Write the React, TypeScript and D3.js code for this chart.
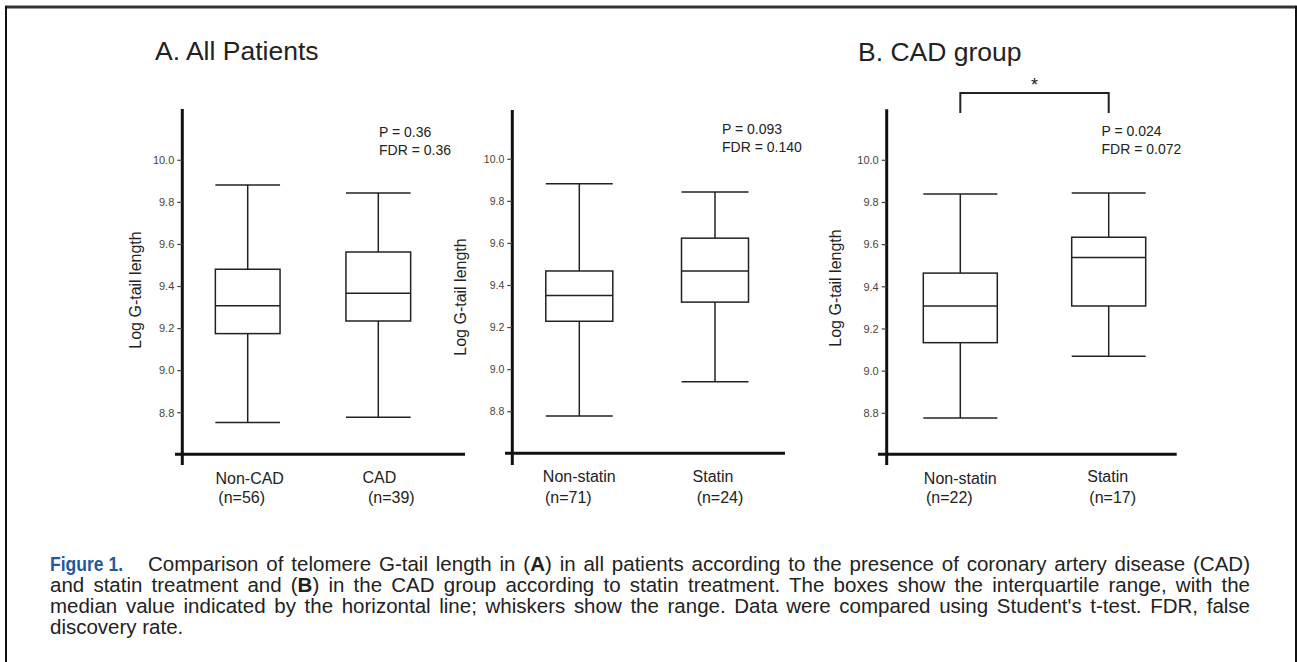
import React, { useLayoutEffect, useRef, useState } from "react";
import * as d3 from "d3";

// ---------- DATA ----------
const panelTitles = ["A. All Patients", "", "B. CAD group"];
const panelCategories = [
  ["Non-CAD", "CAD"],
  ["Non-statin", "Statin"],
  ["Non-statin", "Statin"],
];
const panelCounts = [
  ["(n=56)", "(n=39)"],
  ["(n=71)", "(n=24)"],
  ["(n=22)", "(n=17)"],
];
const whiskerMin = [
  [8.754, 8.778],
  [8.78, 8.942],
  [8.778, 9.071],
];
const quartile1 = [
  [9.176, 9.236],
  [9.23, 9.321],
  [9.135, 9.309],
];
const medianVals = [
  [9.309, 9.368],
  [9.352, 9.469],
  [9.309, 9.539],
];
const quartile3 = [
  [9.482, 9.564],
  [9.469, 9.625],
  [9.465, 9.635],
];
const whiskerMax = [
  [9.883, 9.845],
  [9.884, 9.844],
  [9.84, 9.845],
];
const pLabels = ["P = 0.36", "P = 0.093", "P = 0.024"];
const fdrLabels = ["FDR = 0.36", "FDR = 0.140", "FDR = 0.072"];
const yTicks = [8.8, 9.0, 9.2, 9.4, 9.6, 9.8, 10.0];
const yAxisTitle = "Log G-tail length";

const captionLead = "Figure 1.";
const captionLines = [
  ["Comparison of telomere G-tail length in (", "A", ") in all patients according to the presence of coronary artery disease (CAD)"],
  ["and statin treatment and (", "B", ") in the CAD group according to statin treatment. The boxes show the interquartile range, with the"],
  ["median value indicated by the horizontal line; whiskers show the range. Data were compared using Student's t-test. FDR, false", "", ""],
  ["discovery rate.", "", ""],
];

// ---------- LAYOUT ----------
const W = 1297;
const H = 662;
const layouts = [
  { axisX: 182.3, axisTop: 109, axisBottom: 465, baseY: 454.3, xStart: 175, xEnd: 465, y10: 160.3, y88: 412.7, c: [247.7, 378.3], bw: 64.7, ylabX: 135, ylabY: 290, tickFs: 11, pX: 379, pY: 137, lblDx: [2, 1], nDx: [-6, 13], lblY: [484, 482.5] },
  { axisX: 512.3, axisTop: 110, axisBottom: 465, baseY: 453.3, xStart: 505, xEnd: 785, y10: 159.3, y88: 411.7, c: [579.3, 715], bw: 67, ylabX: 460.5, ylabY: 297, tickFs: 10.5, pX: 722, pY: 134, lblDx: [0, -2], nDx: [-11, 5], lblY: [482, 482] },
  { axisX: 886.7, axisTop: 109.3, axisBottom: 465, baseY: 454.3, xStart: 878, xEnd: 1176.7, y10: 160.3, y88: 413.3, c: [960.3, 1108.7], bw: 74, ylabX: 835, ylabY: 288, tickFs: 11, pX: 1101.5, pY: 136, lblDx: [0, -1], nDx: [-11, 4], lblY: [484, 482] },
];
// caption line layout: [x, baseline, target width or 0 for natural]
const captionLayout = [
  [148, 571, 1102],
  [50, 592, 1200],
  [50, 613, 1200],
  [50, 634, 0],
];
const CAPTION_FS = 20.5;

const FONT = "'Liberation Sans', Arial, Helvetica, sans-serif";

function Panel({ i }: { i: number }) {
  const L = layouts[i];
  const y = d3.scaleLinear().domain([8.8, 10.0]).range([L.y88, L.y10]);
  const x = d3.scalePoint<string>().domain(panelCategories[i]).range([L.c[0], L.c[1]]);
  const half = L.bw / 2;
  return (
    <g>
      <line x1={L.axisX} x2={L.axisX} y1={L.axisTop} y2={L.axisBottom} stroke="#111" strokeWidth={3} />
      <line x1={L.xStart} x2={L.xEnd} y1={L.baseY} y2={L.baseY} stroke="#111" strokeWidth={3} />
      {yTicks.map((t) => (
        <g key={t}>
          <line x1={L.axisX - 5} x2={L.axisX} y1={y(t)} y2={y(t)} stroke="#444" strokeWidth={1.2} />
          <text x={L.axisX - 8} y={y(t)} dy="0.35em" textAnchor="end" fontSize={L.tickFs} fill="#444" fontFamily={FONT}>
            {t.toFixed(1)}
          </text>
        </g>
      ))}
      <text
        transform={`translate(${L.ylabX},${L.ylabY}) rotate(-90)`}
        textAnchor="middle"
        dy="0.35em"
        fontSize={16}
        fill="#222"
        fontFamily={FONT}
      >
        {yAxisTitle}
      </text>
      {panelCategories[i].map((cat, j) => {
        const cx = x(cat)!;
        return (
          <g key={cat} stroke="#222" strokeWidth={1.5} fill="none">
            <line x1={cx} x2={cx} y1={y(whiskerMax[i][j])} y2={y(quartile3[i][j])} />
            <line x1={cx} x2={cx} y1={y(quartile1[i][j])} y2={y(whiskerMin[i][j])} />
            <line x1={cx - half} x2={cx + half} y1={y(whiskerMax[i][j])} y2={y(whiskerMax[i][j])} />
            <line x1={cx - half} x2={cx + half} y1={y(whiskerMin[i][j])} y2={y(whiskerMin[i][j])} />
            <rect x={cx - half} width={L.bw} y={y(quartile3[i][j])} height={y(quartile1[i][j]) - y(quartile3[i][j])} fill="#fff" />
            <line x1={cx - half} x2={cx + half} y1={y(medianVals[i][j])} y2={y(medianVals[i][j])} />
            <text x={cx + L.lblDx[j]} y={L.lblY[j]} textAnchor="middle" fontSize={16} fill="#222" stroke="none" fontFamily={FONT}>
              {cat}
            </text>
            <text x={cx + L.nDx[j]} y={503} textAnchor="middle" fontSize={16} fill="#222" stroke="none" fontFamily={FONT}>
              {panelCounts[i][j]}
            </text>
          </g>
        );
      })}
      <text x={L.pX} y={L.pY} fontSize={14} fill="#222" fontFamily={FONT}>
        {pLabels[i]}
      </text>
      <text x={L.pX} y={L.pY + 18} fontSize={14} fill="#222" fontFamily={FONT}>
        {fdrLabels[i]}
      </text>
    </g>
  );
}

export default function App() {
  const B = layouts[2];
  const xb = d3.scalePoint<string>().domain(panelCategories[2]).range([B.c[0], B.c[1]]);
  const bx1 = xb(panelCategories[2][0])!;
  const bx2 = xb(panelCategories[2][1])!;

  const refs = useRef<(SVGTextElement | null)[]>([]);
  const [ws, setWs] = useState<number[]>([0, 0, 0, 0]);
  useLayoutEffect(() => {
    const next = captionLayout.map((cl, k) => {
      const el = refs.current[k];
      const target = cl[2];
      if (!el || !target) return 0;
      const natural = el.getComputedTextLength();
      const spaces = captionLines[k].join("").split(" ").length - 1;
      return spaces > 0 ? (target - natural) / spaces : 0;
    });
    setWs(next);
  }, []);

  return (
    <svg width={W} height={H} style={{ position: "absolute", left: 0, top: 0, background: "#fff" }}>
      <rect x={0} y={0} width={W} height={H} fill="#fff" />
      {/* frame */}
      <line x1={5} x2={1297} y1={7} y2={7} stroke="#333" strokeWidth={3} />
      <line x1={6} x2={6} y1={6} y2={H} stroke="#111" strokeWidth={2} />
      <line x1={1296} x2={1296} y1={6} y2={H} stroke="#111" strokeWidth={2} />

      <text x={155} y={60} fontSize={26.5} fill="#222" fontFamily={FONT}>{panelTitles[0]}</text>
      <text x={858} y={60.5} fontSize={26.5} fill="#222" fontFamily={FONT}>{panelTitles[2]}</text>

      {[0, 1, 2].map((i) => (
        <Panel key={i} i={i} />
      ))}

      {/* significance bracket */}
      <path d={`M${bx1},113 V93 H${bx2} V113`} fill="none" stroke="#222" strokeWidth={2} />
      <text x={(bx1 + bx2) / 2} y={91} textAnchor="middle" fontSize={18} fill="#222" fontFamily={FONT}>*</text>

      {/* caption */}
      <g fontFamily={FONT} fontSize={CAPTION_FS} fill="#222">
        <text x={50} y={570.5} fontSize={20} fontWeight="bold" fill="#1f5aa0" textLength={73} lengthAdjust="spacingAndGlyphs">
          {captionLead}
        </text>
        {captionLines.map((parts, k) => {
          const [lx, ly, target] = captionLayout[k];
          const extra = target ? { textLength: target, lengthAdjust: "spacing" } : {};
          return (
            <text
              key={k}
              ref={(el) => {
                refs.current[k] = el;
              }}
              x={lx}
              y={ly}
              style={{ wordSpacing: `${ws[k]}px` }}
              {...(ws[k] ? extra : {})}
            >
              <tspan>{parts[0]}</tspan>
              {parts[1] ? <tspan fontWeight="bold">{parts[1]}</tspan> : null}
              {parts[2] ? <tspan>{parts[2]}</tspan> : null}
            </text>
          );
        })}
      </g>
    </svg>
  );
}
